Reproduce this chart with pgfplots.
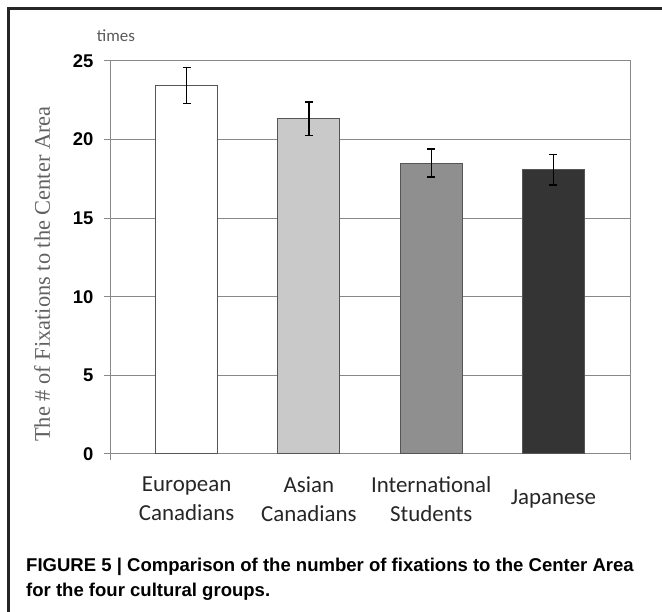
\documentclass[border=0pt]{standalone}
\usepackage{pgfplots}
\pgfplotsset{compat=1.18}
\usepackage{fontspec}
\setmainfont{Liberation Serif}
\setsansfont{Liberation Sans}
\newfontfamily\calibri{Carlito}
\definecolor{axisgray}{HTML}{888888}
\definecolor{barline}{HTML}{555555}
\definecolor{barA}{HTML}{FFFFFF}
\definecolor{barB}{HTML}{C9C9C9}
\definecolor{barC}{HTML}{8F8F8F}
\definecolor{barD}{HTML}{343434}
\begin{document}
\begin{tikzpicture}[x=1bp,y=1bp]
\useasboundingbox (0,0) rectangle (662,612);
% outer frame (open at the bottom)
\draw[line width=3bp, black!85] (8,-5) -- (8,603) -- (668,603);
\begin{axis}[
  at={(110bp,158bp)}, anchor=south west,
  scale only axis, width=520bp, height=393bp,
  xmin=-0.627, xmax=3.626, ymin=0, ymax=25,
  ybar, bar width=0.507, bar shift=0pt,
  tick pos=left,
  xtick={0,1,2,3},
  xticklabels={{European\\Canadians},{Asian\\Canadians},{International\\Students},{Japanese}},
  xticklabel style={font=\calibri\fontsize{23}{29.5}\selectfont, align=center, anchor=center, yshift=-39bp, text=black!85},
  x tick style={draw=none},
  extra x ticks={-0.627,3.626}, extra x tick labels={},
  extra x tick style={x tick style={axisgray, line width=1bp, draw=axisgray}, grid=none},
  ytick={0,5,10,15,20,25},
  yticklabel style={font=\sffamily\bfseries\fontsize{18.5}{18.5}\selectfont, xshift=-7bp},
  /pgf/number format/assume math mode=true,
  ymajorgrids, grid style={axisgray, line width=1bp},
  axis line style={axisgray, line width=1bp},
  y tick style={axisgray, line width=1bp},
  tick align=outside, major tick length=6bp,
  ylabel={The \# of Fixations to the Center Area},
  ylabel style={at={(axis description cs:-0.1308,0.458)}, anchor=center,
    font=\fontsize{22.5}{22.5}\selectfont, text=black!62},
  error bars/error bar style={black, line width=1.4bp},
  error bars/error mark options={rotate=90, black, line width=1.4bp, mark size=4bp},
]
\addplot[fill=barA, draw=barline, line width=1bp, error bars/.cd, y dir=both, y explicit]
  coordinates {(0,23.43) +- (0,1.15)};
\addplot[fill=barB, draw=barline, line width=1bp, error bars/.cd, y dir=both, y explicit]
  coordinates {(1,21.33) +- (0,1.06)};
\addplot[fill=barC, draw=barline, line width=1bp, error bars/.cd, y dir=both, y explicit]
  coordinates {(2,18.51) +- (0,0.88)};
\addplot[fill=barD, draw=barline, line width=1bp, error bars/.cd, y dir=both, y explicit]
  coordinates {(3,18.08) +- (0,0.96)};
\end{axis}
\node[text=black!65, font=\calibri\fontsize{17}{17}\selectfont] at (116,576) {times};
\node[anchor=base west, inner sep=0pt] at (26,40)
  {\sffamily\bfseries\fontsize{18.6}{22}\selectfont FIGURE 5 | Comparison of the number of fixations to the Center Area};
\node[anchor=base west, inner sep=0pt] at (26,15)
  {\sffamily\bfseries\fontsize{18.6}{22}\selectfont for the four cultural groups.};
\end{tikzpicture}
\end{document}
